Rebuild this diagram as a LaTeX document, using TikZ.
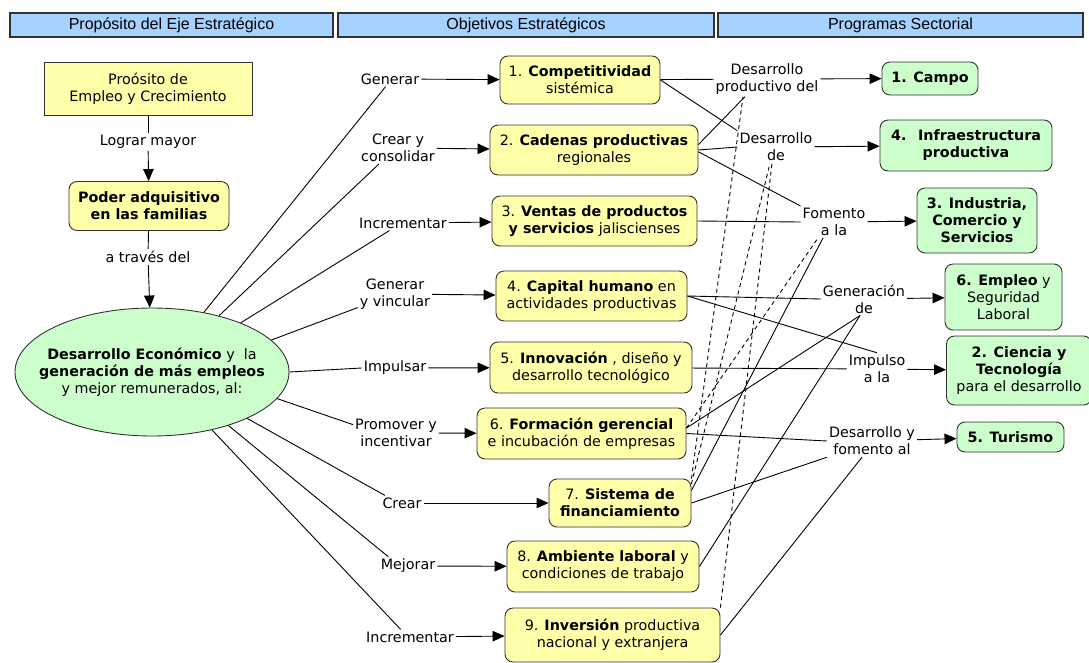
\documentclass[tikz,border=0pt]{standalone}
\usepackage{fontspec}
\setmainfont{DejaVu Sans}
\newfontfamily\headfont{Liberation Sans}
\usetikzlibrary{arrows.meta,shapes.geometric}
\definecolor{objyellow}{RGB}{255,255,170}
\definecolor{proggreen}{RGB}{204,255,204}
\definecolor{headblue}{RGB}{166,210,255}
\definecolor{boxline}{RGB}{50,50,50}
\begin{document}
\begin{tikzpicture}[x=1pt, y=-1pt,
  every node/.style={font=\fontsize{14.3}{17}\selectfont, align=center, inner sep=2pt},
  headbar/.style={draw=boxline, line width=1.2pt, fill=headblue, font=\headfont\fontsize{16}{18}\selectfont, minimum height=24pt},
  objbox/.style={draw=boxline, fill=objyellow, rounded corners=8pt, line width=0.9pt},
  progbox/.style={draw=boxline, fill=proggreen, rounded corners=8pt, line width=0.9pt},
  conn/.style={line width=0.9pt},
  dconn/.style={conn, dash pattern=on 4pt off 3.5pt},
  arr/.style={line width=0.9pt, -{Triangle[length=12pt,width=10.5pt]}}]
\useasboundingbox (0,0) rectangle (1089,662);
% Column headers
\node[headbar, minimum width=323pt] (hprop) at (171.5,25) {Propósito del Eje Estratégico};
\node[headbar, minimum width=376pt] (hobj) at (526,25) {Objetivos Estratégicos};
\node[headbar, minimum width=365pt] (hprog) at (900.5,25) {Programas Sectorial};
% Purpose column
\node[draw=boxline, fill=objyellow, line width=0.9pt, minimum width=208pt, minimum height=53pt] (prop) at (148,89) {Proósito de\\Empleo y Crecimiento};
\node (lograr) at (148,142) {Lograr mayor};
\node[objbox, minimum width=160pt, minimum height=49pt] (poder) at (149,206) {\textbf{Poder adquisitivo}\\\textbf{en las familias}};
\node (atraves) at (148,257) {a través del};
\node[ellipse, draw=boxline, fill=proggreen, line width=0.9pt, inner xsep=-17pt, minimum width=274pt, minimum height=128pt] (desa) at (152,372) {\textbf{Desarrollo Económico} y~ la\\\textbf{generación de más empleos}\\y mejor remunerados, al:};
\draw[conn] (prop) -- (lograr);
\draw[arr] (lograr) -- (poder);
\draw[conn] (poder) -- (atraves);
\draw[arr] (atraves) -- (desa);
% Verbs
\node (v1) at (390,79) {Generar};
\node (v2) at (398,148) {Crear y\\consolidar};
\node (v3) at (403,223) {Incrementar};
\node (v4) at (395,294) {Generar\\y vincular};
\node (v5) at (395,368) {Impulsar};
\node (v6) at (396,433) {Promover y\\incentivar};
\node (v7) at (402,503) {Crear};
\node (v8) at (408,566) {Mejorar};
\node (v9) at (410,637) {Incrementar};
\draw[conn] (desa.49) -- (v1.240);
\draw[conn] (desa.40) -- (v2.220);
\draw[conn] (desa.29) -- (v3.209);
\draw[conn] (desa.15) -- (v4.200);
\draw[conn] (desa.east) -- (v5.west);
\draw[conn] (desa.-12) -- (v6.169);
\draw[conn] (desa.-26) -- (v7.156);
\draw[conn] (desa.-35) -- (v8.155);
\draw[conn] (desa.-44) -- (v9.141);
% Strategic objectives
\node[objbox, minimum width=160pt, minimum height=48pt] (o1) at (580,80) {1. \textbf{Competitividad}\\sistémica};
\node[objbox, minimum width=208pt, minimum height=50pt] (o2) at (594,150) {2. \textbf{Cadenas productivas}\\regionales};
\node[objbox, minimum width=205pt, minimum height=50pt] (o3) at (594.5,221) {3. \textbf{Ventas de productos}\\\textbf{y servicios} jaliscienses};
\node[objbox, minimum width=191pt, minimum height=50pt] (o4) at (591.5,296) {4. \textbf{Capital humano} en\\actividades productivas};
\node[objbox, minimum width=202pt, minimum height=51pt] (o5) at (591,367.5) {5. \textbf{Innovación} , diseño y\\desarrollo tecnológico};
\node[objbox, minimum width=209pt, minimum height=51pt] (o6) at (581.5,433.5) {6. \textbf{Formación gerencial}\\e incubación de empresas};
\node[objbox, minimum width=142pt, minimum height=48pt] (o7) at (620,503) {7. \textbf{Sistema de}\\\textbf{financiamiento}};
\node[objbox, minimum width=192pt, minimum height=51pt] (o8) at (603,566.5) {8. \textbf{Ambiente laboral} y\\condiciones de trabajo};
\node[objbox, minimum width=215pt, minimum height=54pt] (o9) at (612.5,635) {9. \textbf{Inversión} productiva\\nacional y extranjera};
\foreach \i in {1,...,9} \draw[arr] (v\i) -- (o\i);
% Sector programmes
\node[progbox, minimum width=96pt, minimum height=33pt] (p1) at (930,78.5) {\textbf{1. Campo}};
\node[progbox, minimum width=172pt, minimum height=51pt] (p4) at (966,145.5) {\textbf{4.~ Infraestructura}\\\textbf{productiva}};
\node[progbox, minimum width=120pt, minimum height=65pt] (p3) at (977,220.5) {\textbf{3. Industria,}\\\textbf{Comercio y}\\\textbf{Servicios}};
\node[progbox, minimum width=117pt, minimum height=66pt] (p6) at (1003.5,297) {\textbf{6. Empleo} y\\Seguridad\\Laboral};
\node[progbox, minimum width=145pt, minimum height=69pt] (p2) at (1019,370.5) {\textbf{2. Ciencia y}\\\textbf{Tecnología}\\para el desarrollo};
\node[progbox, minimum width=107pt, minimum height=30pt] (p5) at (1010.5,437) {\textbf{5. Turismo}};
% Linking phrases
\node (l1) at (767,79) {Desarrollo\\productivo del};
\node (l2) at (776,147) {Desarrollo\\de};
\node (l3) at (834,222) {Fomento\\a la};
\node (l4) at (864,299) {Generación\\de};
\node (l5) at (877,369) {Impulso\\a la};
\node (l6) at (872,441) {Desarrollo y\\fomento al};
\draw[conn] (o1) -- (l1);
\draw[conn] (o2.3) -- ([xshift=-22pt]l1.south);
\draw[dconn] (o7.north east) -- ([xshift=-24pt]l1.south);
\draw[conn] (o1.east) -- (l2.north west);
\draw[conn] (o2.east) -- (l2.west);
\draw[dconn] (o7.15) -- ([xshift=-6pt]l2.south);
\draw[dconn] (o9.north east) -- ([xshift=-4pt]l2.south);
\draw[conn] (o2.-1) -- (l3.north west);
\draw[conn] (o3.east) -- (l3.west);
\draw[dconn] (o6.3) -- ([xshift=-16pt]l3.south);
\draw[conn] (o7.10) -- ([xshift=-11pt]l3.south);
\draw[conn] (o4.east) -- (l4.west);
\draw[conn] (o6.3) -- ([xshift=-4pt]l4.south);
\draw[conn] (o8.east) -- ([xshift=-4pt]l4.south);
\draw[conn] (o4.east) -- (l5.north);
\draw[conn] (o5) -- (l5);
\draw[conn] (o6.east) -- (l6.west);
\draw[conn] (o7.east) -- (l6.south west);
\draw[conn] (o9.east) -- ([xshift=-10pt]l6.south);
\draw[arr] (l1) -- (p1);
\draw[arr] (l2) -- (p4);
\draw[arr] (l3) -- (p3);
\draw[arr] (l4) -- (p6);
\draw[arr] (l5) -- (p2);
\draw[arr] (l6) -- (p5);
\end{tikzpicture}
\end{document}
